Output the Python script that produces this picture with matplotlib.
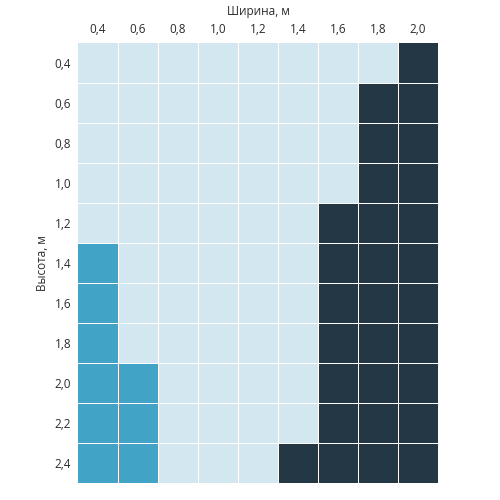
import matplotlib
matplotlib.use("Agg")
import matplotlib.pyplot as plt
import numpy as np
from matplotlib.colors import ListedColormap

widths = ["0,4", "0,6", "0,8", "1,0", "1,2", "1,4", "1,6", "1,8", "2,0"]
heights = ["0,4", "0,6", "0,8", "1,0", "1,2", "1,4", "1,6", "1,8", "2,0", "2,2", "2,4"]

# 0 = light, 1 = medium, 2 = dark; rows follow heights top to bottom
grid = [
    [0, 0, 0, 0, 0, 0, 0, 0, 2],
    [0, 0, 0, 0, 0, 0, 0, 2, 2],
    [0, 0, 0, 0, 0, 0, 0, 2, 2],
    [0, 0, 0, 0, 0, 0, 0, 2, 2],
    [0, 0, 0, 0, 0, 0, 2, 2, 2],
    [1, 0, 0, 0, 0, 0, 2, 2, 2],
    [1, 0, 0, 0, 0, 0, 2, 2, 2],
    [1, 0, 0, 0, 0, 0, 2, 2, 2],
    [1, 1, 0, 0, 0, 0, 2, 2, 2],
    [1, 1, 0, 0, 0, 0, 2, 2, 2],
    [1, 1, 0, 0, 0, 2, 2, 2, 2],
]

colors = ["#d2e7ef", "#41a3c6", "#233844"]
text_color = "#2b2b2b"
font = "Open Sans"

fig = plt.figure(figsize=(5, 5), dpi=100)
ax = fig.add_axes([0.156, 0.034, 0.72, 0.88])

data = np.array(grid)
ax.pcolormesh(data, cmap=ListedColormap(colors), vmin=-0.5, vmax=2.5)
ax.set_xlim(0, len(widths))
ax.set_ylim(len(heights), 0)

# thin white separators between cells
for x in range(1, len(widths)):
    ax.axvline(x, color="white", linewidth=0.6, snap=True, antialiased=False)
for y in range(1, len(heights)):
    ax.axhline(y, color="white", linewidth=0.6, snap=True, antialiased=False)

ax.xaxis.tick_top()
ax.xaxis.set_label_position("top")
ax.set_xticks(np.arange(len(widths)) + 0.5)
ax.set_xticklabels(widths, fontsize=8.5, color=text_color, family=font)
ax.set_yticks(np.arange(len(heights)) + 0.5)
ax.set_yticklabels(heights, fontsize=8.5, color=text_color, family=font)
ax.tick_params(length=0, pad=5)
ax.set_xlabel("Ширина, м", fontsize=8.5, color=text_color, family=font, labelpad=6)
ax.set_ylabel("Высота, м", fontsize=8.5, color=text_color, family=font, labelpad=4)

for spine in ax.spines.values():
    spine.set_visible(False)

fig.savefig("out.png", dpi=100)
